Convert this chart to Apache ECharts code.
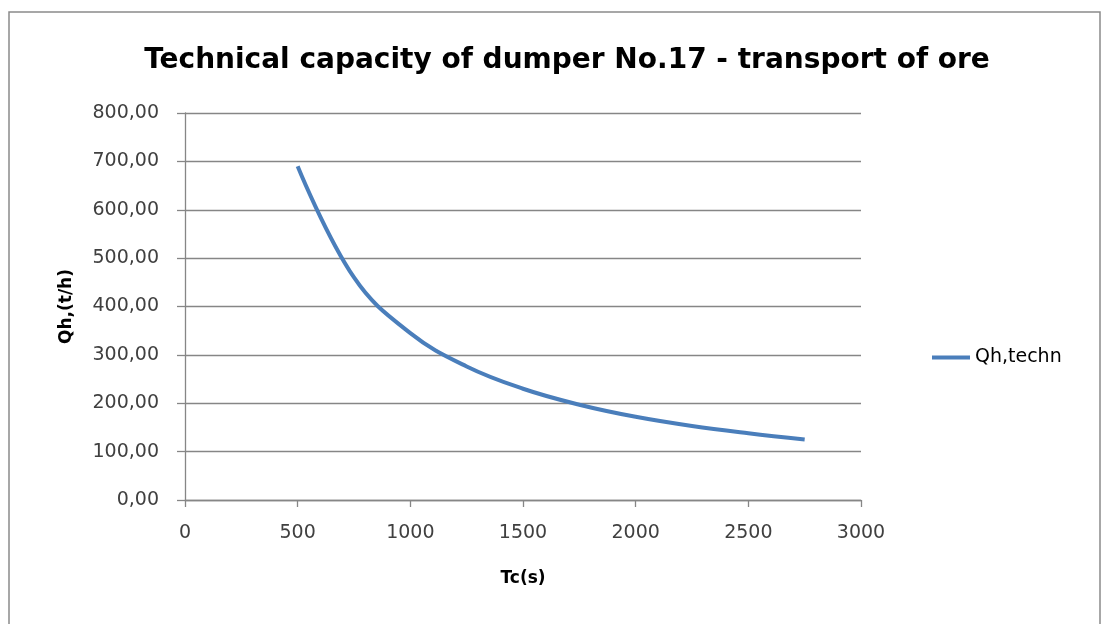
<!DOCTYPE html>
<html>
<head>
<meta charset="utf-8">
<script src="https://cdn.jsdelivr.net/npm/echarts@6/dist/echarts.min.js"></script>
<style>
html,body{margin:0;padding:0;background:#fff;}
#chart{width:1102px;height:624px;}
</style>
</head>
<body>
<div id="chart"></div>
<script>
const titleText = 'Technical capacity of dumper No.17 - transport of ore';
const seriesName = 'Qh,techn';
const xAxisName = 'Tc(s)';
const yAxisName = 'Qh,(t/h)';
const tcValues = [500, 750, 1000, 1250, 1500, 1750, 2000, 2250, 2500, 2750];
const qhValues = [690, 460, 345, 276, 230, 197, 172, 153, 138, 125];

const chart = echarts.init(document.getElementById('chart'));
const FONT = 'DejaVu Sans';
chart.setOption({
  animation: false,
  backgroundColor: '#ffffff',
  graphic: [{
    type: 'rect',
    shape: {x: 9, y: 12, width: 1091, height: 640},
    style: {fill: 'none', stroke: '#8a8a8a', lineWidth: 1.5},
    silent: true
  }],
  title: {
    text: titleText,
    left: 562, top: 42, textAlign: 'center',
    textStyle: {fontFamily: FONT, fontWeight: 'bold', fontSize: 28, color: '#000'}
  },
  legend: {
    left: 927, top: 343,
    itemWidth: 38, itemHeight: 4, itemGap: 6,
    icon: 'rect',
    textStyle: {fontFamily: FONT, fontSize: 19, color: '#000'},
    data: [seriesName]
  },
  grid: {left: 185, right: 241, top: 113, bottom: 124, containLabel: false},
  xAxis: {
    type: 'value', min: 0, max: 3000, interval: 500,
    name: xAxisName, nameLocation: 'middle', nameGap: 70,
    nameTextStyle: {fontFamily: FONT, fontWeight: 'bold', fontSize: 17, color: '#000'},
    axisLine: {show: true, lineStyle: {color: '#868686', width: 1.3}},
    axisTick: {show: true, length: 7, lineStyle: {color: '#868686', width: 1.3}},
    axisLabel: {fontFamily: FONT, fontSize: 19, color: '#404040', margin: 24,
      formatter: v => String(v)},
    splitLine: {show: false}
  },
  yAxis: {
    type: 'value', min: 0, max: 800, interval: 100,
    name: yAxisName, nameLocation: 'middle', nameGap: 110, nameRotate: 90,
    nameTextStyle: {fontFamily: FONT, fontWeight: 'bold', fontSize: 17, color: '#000'},
    axisLine: {show: true, lineStyle: {color: '#868686', width: 1.3}},
    axisTick: {show: true, length: 8, lineStyle: {color: '#868686', width: 1.3}},
    axisLabel: {fontFamily: FONT, fontSize: 19, color: '#404040', margin: 26,
      formatter: v => v.toFixed(2).replace('.', ',')},
    splitLine: {show: true, lineStyle: {color: '#868686', width: 1.3}}
  },
  series: [{
    name: seriesName,
    type: 'line',
    data: tcValues.map((t, i) => [t, qhValues[i]]),
    smooth: 0.4,
    showSymbol: false,
    symbol: 'none',
    lineStyle: {color: '#4a7ebb', width: 4},
    itemStyle: {color: '#4a7ebb'}
  }]
});
</script>
</body>
</html>
